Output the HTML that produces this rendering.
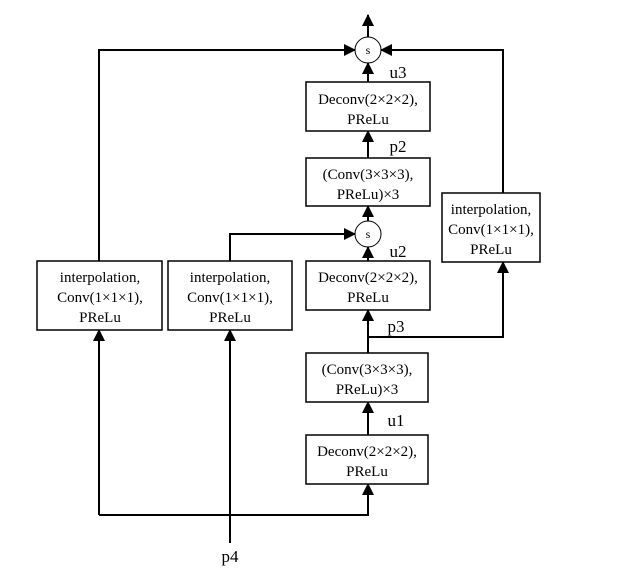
<!DOCTYPE html><html><head><style>body{margin:0;background:#fff}</style></head><body>
<svg width="619" height="572" xmlns="http://www.w3.org/2000/svg" font-family="Liberation Serif, serif" font-size="15" text-anchor="middle">
<defs><marker id="a" markerWidth="12" markerHeight="12" refX="11" refY="6" orient="auto" markerUnits="userSpaceOnUse"><path d="M0,0 L12,6 L0,12z" fill="#000"/></marker></defs>
<g fill="none" stroke="#000" stroke-width="2">
<circle cx="368" cy="50" r="13" stroke-width="1"/>
<circle cx="368" cy="234" r="13" stroke-width="1"/>
<line x1="368" y1="37" x2="368" y2="15" marker-end="url(#a)"/>
<line x1="368" y1="82" x2="368" y2="63" marker-end="url(#a)"/>
<line x1="368" y1="158" x2="368" y2="131" marker-end="url(#a)"/>
<line x1="368" y1="261" x2="368" y2="247" marker-end="url(#a)"/>
<line x1="368" y1="221" x2="368" y2="206" marker-end="url(#a)"/>
<line x1="368" y1="353" x2="368" y2="310" marker-end="url(#a)"/>
<line x1="368" y1="435" x2="368" y2="402" marker-end="url(#a)"/>
<polyline points="99,261 99,50 355,50" marker-end="url(#a)"/>
<polyline points="503,193 503,50 381,50" marker-end="url(#a)"/>
<polyline points="230,261 230,234 355,234" marker-end="url(#a)"/>
<polyline points="368,337 503,337 503,262" marker-end="url(#a)"/>
<polyline points="99,515 99,330" marker-end="url(#a)"/>
<polyline points="99,515 368,515 368,484" marker-end="url(#a)"/>
<line x1="230" y1="543" x2="230" y2="330" marker-end="url(#a)"/>
</g>
<g fill="#fff" stroke="#000" stroke-width="1.5">
<rect x="306" y="82" width="124" height="49"/>
<rect x="306" y="158" width="124" height="48"/>
<rect x="442" y="193" width="98" height="69"/>
<rect x="37" y="261" width="125" height="69"/>
<rect x="168" y="261" width="124" height="69"/>
<rect x="306" y="261" width="124" height="49"/>
<rect x="306" y="353" width="122" height="49"/>
<rect x="306" y="435" width="122" height="49"/>
</g>
<text x="368" y="54" font-size="12">s</text>
<text x="368" y="238" font-size="12">s</text>
<g font-size="17"><text x="398" y="78">u3</text><text x="398" y="152">p2</text><text x="398" y="257">u2</text><text x="396" y="332">p3</text><text x="396" y="426">u1</text><text x="230" y="562">p4</text></g>
<text x="368" y="104">Deconv(2×2×2),</text><text x="368" y="124">PReLu</text>
<text x="368" y="179">(Conv(3×3×3),</text><text x="368" y="199">PReLu)×3</text>
<text x="491" y="214">interpolation,</text><text x="491" y="234">Conv(1×1×1),</text><text x="491" y="254">PReLu</text>
<text x="100" y="282">interpolation,</text><text x="100" y="302">Conv(1×1×1),</text><text x="100" y="322">PReLu</text>
<text x="230" y="282">interpolation,</text><text x="230" y="302">Conv(1×1×1),</text><text x="230" y="322">PReLu</text>
<text x="368" y="282">Deconv(2×2×2),</text><text x="368" y="302">PReLu</text>
<text x="367" y="374">(Conv(3×3×3),</text><text x="367" y="394">PReLu)×3</text>
<text x="367" y="456">Deconv(2×2×2),</text><text x="367" y="476">PReLu</text>
</svg></body></html>
